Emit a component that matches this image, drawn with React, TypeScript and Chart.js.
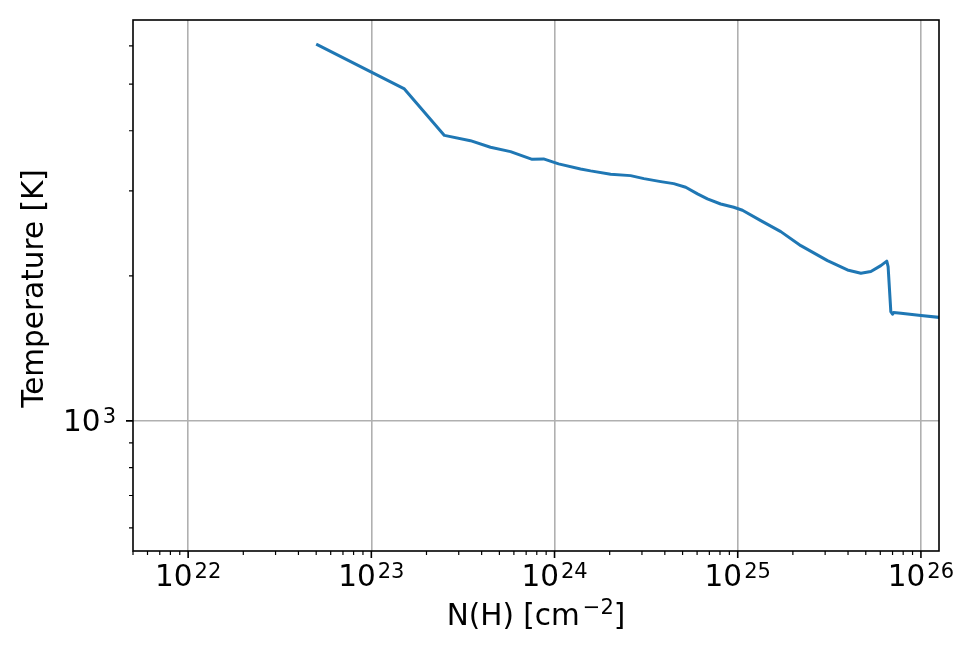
import React, { useEffect, useRef } from "react";
import { Chart, registerables } from "chart.js";

Chart.register(...registerables);

// N(H) [cm^-2]
const columnDensity = [
  5.0e22, 1.515e23, 2.505e23, 3.475e23, 4.47e23, 5.75e23, 7.55e23, 8.71e23,
  1.052e24, 1.387e24, 1.573e24, 2.024e24, 2.6e24, 3.075e24, 3.8e24, 4.47e24,
  5.2e24, 6.03e24, 6.83e24, 8.07e24, 9.51e24, 1.061e25, 1.336e25, 1.718e25,
  2.21e25, 3.09e25, 3.97e25, 4.7e25, 5.33e25, 6.04e25, 6.51e25, 6.62e25,
  6.85e25, 7.0e25, 7.09e25, 7.78e25, 1.0e26, 1.29e26,
];
// Temperature [K]
const temperature = [
  6050, 4884, 3912, 3815, 3697, 3620, 3490, 3496,
  3414, 3333, 3302, 3250, 3228, 3182, 3137, 3107,
  3054, 2958, 2888, 2819, 2775, 2736, 2603, 2470,
  2310, 2151, 2057, 2025, 2041, 2100, 2145, 2090,
  1686, 1665, 1678, 1673, 1654, 1638,
];

const xMajorExponents = [22, 23, 24, 25, 26];
const yMajorExponents = [3];
const xLimits = [5e21, 1.255e26];
const yLimits = [537, 6790];
const xLabelParts = [
  { t: "N(H) [cm", sup: false },
  { t: "\u22122", sup: true },
  { t: "]", sup: false },
];
const yLabelText = "Temperature [K]";

const FONT = '"DejaVu Sans"';
const MAIN = 29.5;
const SUP = 21;

type Part = { t: string; sup: boolean };

function drawMath(
  ctx: CanvasRenderingContext2D,
  parts: Part[],
  x: number,
  y: number,
  align: "center" | "right" | "left",
  raise: number,
  supGap: number
) {
  const widths = parts.map((p) => {
    ctx.font = `${p.sup ? SUP : MAIN}px ${FONT}`;
    return ctx.measureText(p.t).width + (p.sup ? supGap : 0);
  });
  const total = widths.reduce((a, b) => a + b, 0);
  let cx = align === "center" ? x - total / 2 : align === "right" ? x - total : x;
  ctx.textAlign = "left";
  ctx.textBaseline = "alphabetic";
  parts.forEach((p, i) => {
    ctx.font = `${p.sup ? SUP : MAIN}px ${FONT}`;
    ctx.fillText(p.t, cx + (p.sup ? supGap : 0), p.sup ? y - raise : y);
    cx += widths[i];
  });
}

function minorValues(min: number, max: number): number[] {
  const out: number[] = [];
  const lo = Math.floor(Math.log10(min));
  const hi = Math.ceil(Math.log10(max));
  for (let e = lo; e <= hi; e++) {
    for (let m = 2; m <= 9; m++) {
      const v = m * Math.pow(10, e);
      if (v >= min * 0.9999 && v <= max * 1.0001) out.push(v);
    }
  }
  return out;
}

const mplPlugin = {
  id: "mplDecor",
  afterDraw(chart: any) {
    const { ctx, chartArea: a } = chart;
    const xs = chart.scales.x;
    const ys = chart.scales.y;
    ctx.save();
    ctx.strokeStyle = "#000";
    ctx.fillStyle = "#000";

    // minor ticks
    ctx.lineWidth = 1.2;
    ctx.beginPath();
    minorValues(xLimits[0], xLimits[1]).forEach((v) => {
      const px = xs.getPixelForValue(v);
      ctx.moveTo(px, a.bottom);
      ctx.lineTo(px, a.bottom + 4);
    });
    minorValues(yLimits[0], yLimits[1]).forEach((v) => {
      const py = ys.getPixelForValue(v);
      ctx.moveTo(a.left, py);
      ctx.lineTo(a.left - 4, py);
    });
    ctx.stroke();

    // major ticks
    ctx.lineWidth = 1.6;
    ctx.beginPath();
    xMajorExponents.forEach((e) => {
      const px = xs.getPixelForValue(Math.pow(10, e));
      ctx.moveTo(px, a.bottom);
      ctx.lineTo(px, a.bottom + 7);
    });
    yMajorExponents.forEach((e) => {
      const py = ys.getPixelForValue(Math.pow(10, e));
      ctx.moveTo(a.left, py);
      ctx.lineTo(a.left - 7, py);
    });
    ctx.stroke();

    // spines
    ctx.lineWidth = 1.6;
    ctx.strokeRect(a.left, a.top, a.right - a.left, a.bottom - a.top);

    // tick labels
    xMajorExponents.forEach((e) => {
      const px = xs.getPixelForValue(Math.pow(10, e));
      drawMath(ctx, [{ t: "10", sup: false }, { t: String(e), sup: true }], px, a.bottom + 35, "center", 8, 2);
    });
    yMajorExponents.forEach((e) => {
      const py = ys.getPixelForValue(Math.pow(10, e));
      drawMath(ctx, [{ t: "10", sup: false }, { t: String(e), sup: true }], a.left - 17, py + 10, "right", 8, 2);
    });

    // axis labels
    drawMath(ctx, xLabelParts, (a.left + a.right) / 2, 625, "center", 11, 3);
    ctx.save();
    ctx.translate(43, 288.5);
    ctx.rotate(-Math.PI / 2);
    ctx.font = `${MAIN}px ${FONT}`;
    ctx.textAlign = "center";
    ctx.textBaseline = "alphabetic";
    ctx.fillText(yLabelText, 0, 0);
    ctx.restore();

    ctx.restore();
  },
};

export default function App() {
  const ref = useRef<HTMLCanvasElement | null>(null);
  useEffect(() => {
    if (!ref.current) return;
    const points = columnDensity.map((x, i) => ({ x, y: temperature[i] }));
    const chart = new Chart(ref.current, {
      type: "line",
      data: {
        datasets: [
          {
            data: points,
            borderColor: "#1f77b4",
            borderWidth: 3,
            pointRadius: 0,
            tension: 0,
            fill: false,
            borderJoinStyle: "round",
            borderCapStyle: "butt",
          } as any,
        ],
      },
      options: {
        responsive: false,
        animation: false,
        devicePixelRatio: 1,
        layout: { padding: { top: 20, right: 41, left: 0, bottom: 0 } },
        plugins: { legend: { display: false }, tooltip: { enabled: false } },
        scales: {
          x: {
            type: "logarithmic",
            min: xLimits[0],
            max: xLimits[1],
            afterBuildTicks: (scale: any) => {
              scale.ticks = xMajorExponents.map((e) => ({ value: Math.pow(10, e) }));
            },
            afterFit: (scale: any) => {
              scale.height = 102;
            },
            ticks: { display: false },
            grid: { color: "#b0b0b0", lineWidth: 1.6, drawTicks: false },
            border: { display: false },
          },
          y: {
            type: "logarithmic",
            min: yLimits[0],
            max: yLimits[1],
            afterBuildTicks: (scale: any) => {
              scale.ticks = yMajorExponents.map((e) => ({ value: Math.pow(10, e) }));
            },
            afterFit: (scale: any) => {
              scale.width = 133;
            },
            ticks: { display: false },
            grid: { color: "#b0b0b0", lineWidth: 1.6, drawTicks: false },
            border: { display: false },
          },
        },
      },
      plugins: [mplPlugin],
    });
    return () => chart.destroy();
  }, []);
  return (
    <div style={{ position: "absolute", left: 0, top: 0, width: 980, height: 653, background: "#fff" }}>
      <canvas ref={ref} width={980} height={653} style={{ display: "block" }} />
    </div>
  );
}
